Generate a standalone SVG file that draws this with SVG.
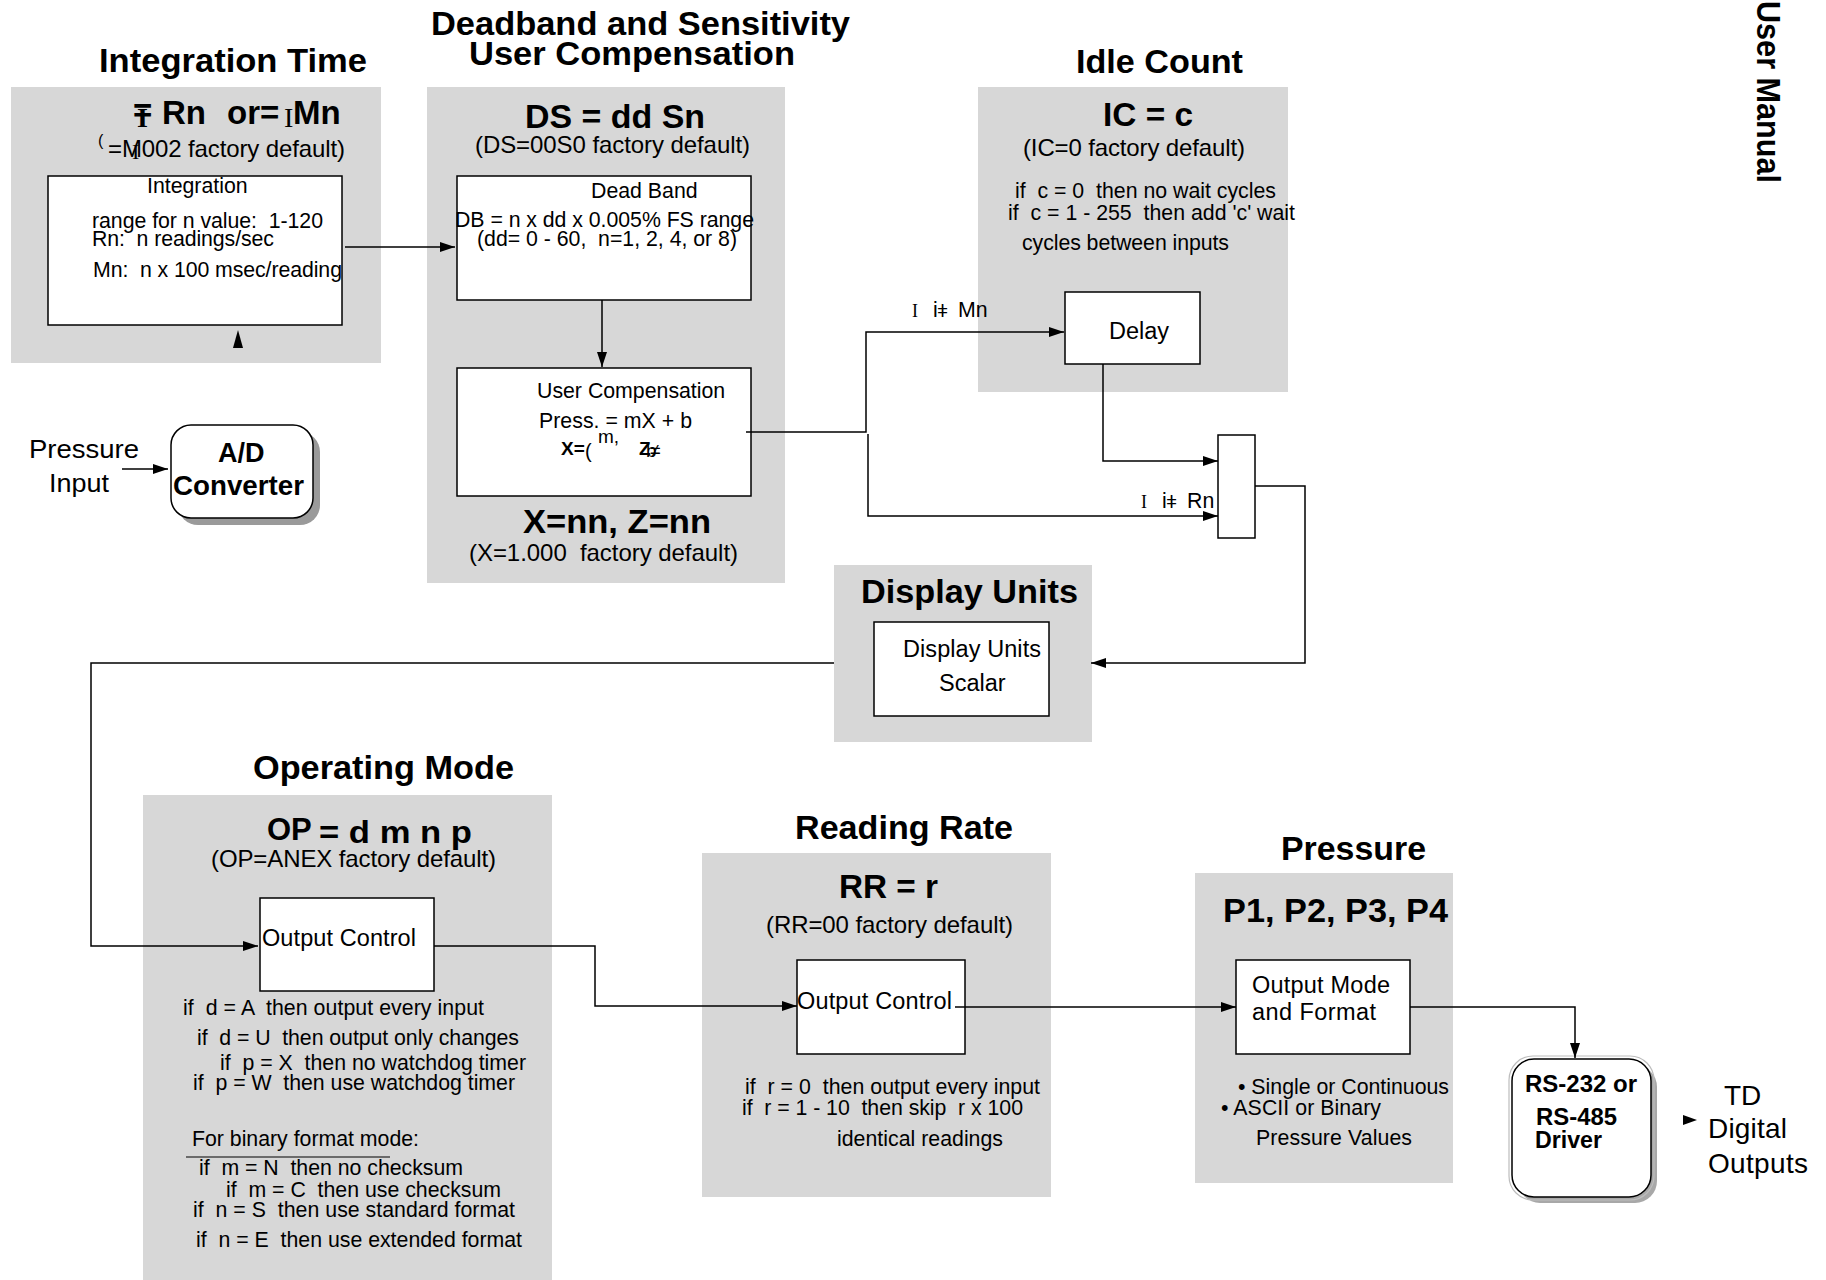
<svg xmlns="http://www.w3.org/2000/svg" width="1826" height="1280" viewBox="0 0 1826 1280">
  <style>
    text { font-family: "Liberation Sans", Arial, sans-serif; fill: #000; white-space: pre; }
    .title { font-size: 34px; font-weight: bold; }
    .head { font-size: 33px; font-weight: bold; }
    .dflt { font-size: 24px; }
    .body { font-size: 21.3px; }
    .lbl { font-size: 23.5px; }
    .serif { font-family: "Liberation Serif", "Times New Roman", serif; }
    .panel { fill: #d7d7d7; }
    .box { fill: #fff; stroke: #000; stroke-width: 1.5; }
    .wire { fill: none; stroke: #000; stroke-width: 1.5; }
    .arrowed { marker-end: url(#arrow); }
  </style>
  <defs>
    <marker id="arrow" markerUnits="userSpaceOnUse" markerWidth="15" markerHeight="10" refX="15" refY="5" orient="auto">
      <path d="M0,0 L15,5 L0,10 z" fill="#000"/>
    </marker>
  </defs>

  <rect x="0" y="0" width="1826" height="1280" fill="#fff"/>

  <!-- vertical page header -->
  <text class="head" transform="translate(1757,1) rotate(90)" textLength="182" lengthAdjust="spacingAndGlyphs">User Manual</text>

  <!-- Integration Time -->
  <g id="integration-time">
    <text class="title" x="99" y="72" textLength="268" lengthAdjust="spacingAndGlyphs">Integration Time</text>
    <rect class="panel" x="11" y="87" width="370" height="276"/>
    <text class="head" x="133" y="122" font-size="30">=</text>
    <text class="serif" x="137" y="127" font-size="28" font-weight="bold">I</text>
    <text class="head" x="162" y="124">Rn</text>
    <text class="head" x="227" y="124">or=</text>
    <text class="serif" x="284" y="127" font-size="28">I</text>
    <text class="head" x="293" y="124">Mn</text>
    <text x="98" y="146" font-size="16">(</text>
    <text class="dflt" x="108" y="157" textLength="237">=M002 factory default)</text>
    <text class="serif" x="132" y="159" font-size="22">I</text>
    <rect class="box" x="48" y="176" width="294" height="149"/>
    <text class="body" x="147" y="193">Integration</text>
    <text class="body" x="92" y="228" textLength="231">range for n value:  1-120</text>
    <text class="body" x="92" y="246" textLength="182">Rn:  n readings/sec</text>
    <text class="body" x="93" y="277" textLength="249">Mn:  n x 100 msec/reading</text>
    <polygon points="238,330 233,348 243,348" fill="#000"/>
  </g>

  <!-- Deadband and Sensitivity / User Compensation -->
  <g id="deadband">
    <text class="title" x="431" y="35" textLength="419" lengthAdjust="spacingAndGlyphs">Deadband and Sensitivity</text>
    <text class="title" x="469" y="65" textLength="326" lengthAdjust="spacingAndGlyphs">User Compensation</text>
    <rect class="panel" x="427" y="87" width="358" height="496"/>
    <text class="head" x="525" y="128" font-size="37" textLength="180" lengthAdjust="spacingAndGlyphs">DS = dd Sn</text>
    <text class="dflt" x="475" y="153" textLength="275">(DS=00S0 factory default)</text>
    <rect class="box" x="457" y="176" width="294" height="124"/>
    <text class="body" x="591" y="198">Dead Band</text>
    <text class="body" x="455" y="227" textLength="299">DB = n x dd x 0.005% FS range</text>
    <text class="body" x="477" y="246" textLength="260">(dd= 0 - 60,  n=1, 2, 4, or 8)</text>
  </g>

  <g id="user-compensation">
    <rect class="box" x="457" y="368" width="294" height="128"/>
    <text class="body" x="537" y="398">User Compensation</text>
    <text class="body" x="539" y="428" textLength="153">Press. = mX + b</text>
    <text x="561" y="455" font-size="19" font-weight="bold">X=</text>
    <text x="585" y="458" font-size="20">(</text>
    <text x="598" y="443" font-size="19">m,</text>
    <text x="639" y="455" font-size="19" font-weight="bold">Z</text>
    <text x="646" y="457" font-size="19">b</text>
    <text x="650" y="457" font-size="19">≠</text>
    <text class="head" x="523" y="533" font-size="32" textLength="188" lengthAdjust="spacingAndGlyphs">X=nn, Z=nn</text>
    <text class="dflt" x="469" y="561" textLength="269">(X=1.000  factory default)</text>
  </g>

  <!-- Idle Count -->
  <g id="idle-count">
    <text class="title" x="1076" y="73" textLength="167" lengthAdjust="spacingAndGlyphs">Idle Count</text>
    <rect class="panel" x="978" y="87" width="310" height="305"/>
    <text class="head" x="1103" y="126" textLength="90" lengthAdjust="spacingAndGlyphs">IC = c</text>
    <text class="dflt" x="1023" y="156" textLength="222">(IC=0 factory default)</text>
    <text class="body" x="1015" y="198" textLength="261">if  c = 0  then no wait cycles</text>
    <text class="body" x="1008" y="220" textLength="287">if  c = 1 - 255  then add 'c' wait</text>
    <text class="body" x="1022" y="250" textLength="207">cycles between inputs</text>
  </g>

  <g id="delay">
    <rect class="box" x="1065" y="292" width="135" height="72"/>
    <text class="lbl" x="1109" y="339">Delay</text>
  </g>

  <g id="selector">
    <rect class="box" x="1218" y="435" width="37" height="103"/>
  </g>

  <!-- A/D Converter -->
  <g id="ad-converter">
    <rect x="178" y="432" width="142" height="93" rx="20" fill="#9a9a9a"/>
    <rect class="box" x="171" y="425" width="142" height="93" rx="20"/>
    <text x="218" y="462" font-size="27" font-weight="bold">A/D</text>
    <text x="173" y="495" font-size="27" font-weight="bold" textLength="131" lengthAdjust="spacingAndGlyphs">Converter</text>
  </g>

  <g id="pressure-input">
    <text x="29" y="458" font-size="26" textLength="110" lengthAdjust="spacingAndGlyphs">Pressure</text>
    <text x="49" y="492" font-size="26" textLength="60" lengthAdjust="spacingAndGlyphs">Input</text>
  </g>

  <!-- Display Units -->
  <g id="display-units">
    <rect class="panel" x="834" y="565" width="258" height="177"/>
    <text class="head" x="861" y="603" textLength="217" lengthAdjust="spacingAndGlyphs">Display Units</text>
    <rect class="box" x="874" y="622" width="175" height="94"/>
    <text class="lbl" x="903" y="657" textLength="138">Display Units</text>
    <text class="lbl" x="939" y="691">Scalar</text>
  </g>

  <!-- Operating Mode -->
  <g id="operating-mode">
    <text class="title" x="253" y="779" textLength="261" lengthAdjust="spacingAndGlyphs">Operating Mode</text>
    <rect class="panel" x="143" y="795" width="409" height="485"/>
    <text x="267" y="840" font-size="31" font-weight="bold">OP</text>
    <text x="319" y="843" font-size="32" font-weight="bold" textLength="153" lengthAdjust="spacingAndGlyphs">= d m n p</text>
    <text class="dflt" x="211" y="867" textLength="285">(OP=ANEX factory default)</text>
    <rect class="box" x="260" y="898" width="174" height="93"/>
    <text class="lbl" x="262" y="946" textLength="154">Output Control</text>
    <text class="body" x="183" y="1015" textLength="301">if  d = A  then output every input</text>
    <text class="body" x="197" y="1045" textLength="322">if  d = U  then output only changes</text>
    <text class="body" x="220" y="1070" textLength="306">if  p = X  then no watchdog timer</text>
    <text class="body" x="193" y="1090" textLength="322">if  p = W  then use watchdog timer</text>
    <text class="body" x="192" y="1146" textLength="227">For binary format mode:</text>
    <line x1="186" y1="1157" x2="390" y2="1157" stroke="#000" stroke-width="1.2"/>
    <text class="body" x="199" y="1175" textLength="264">if  m = N  then no checksum</text>
    <text class="body" x="226" y="1197" textLength="275">if  m = C  then use checksum</text>
    <text class="body" x="193" y="1217" textLength="322">if  n = S  then use standard format</text>
    <text class="body" x="196" y="1247" textLength="326">if  n = E  then use extended format</text>
  </g>

  <!-- Reading Rate -->
  <g id="reading-rate">
    <text class="title" x="795" y="839" textLength="218" lengthAdjust="spacingAndGlyphs">Reading Rate</text>
    <rect class="panel" x="702" y="853" width="349" height="344"/>
    <text class="head" x="839" y="898" textLength="99" lengthAdjust="spacingAndGlyphs">RR = r</text>
    <text class="dflt" x="766" y="933" textLength="247">(RR=00 factory default)</text>
    <rect class="box" x="797" y="960" width="168" height="94"/>
    <text class="lbl" x="797" y="1009" textLength="155">Output Control</text>
    <text class="body" x="745" y="1094" textLength="295">if  r = 0  then output every input</text>
    <text class="body" x="742" y="1115" textLength="281">if  r = 1 - 10  then skip  r x 100</text>
    <text class="body" x="837" y="1146" textLength="166">identical readings</text>
  </g>

  <!-- Pressure -->
  <g id="pressure">
    <text class="title" x="1281" y="860" textLength="145" lengthAdjust="spacingAndGlyphs">Pressure</text>
    <rect class="panel" x="1195" y="873" width="258" height="310"/>
    <text class="head" x="1223" y="922" textLength="225" lengthAdjust="spacingAndGlyphs">P1, P2, P3, P4</text>
    <rect class="box" x="1236" y="960" width="174" height="94"/>
    <text class="lbl" x="1252" y="993" textLength="138">Output Mode</text>
    <text class="lbl" x="1252" y="1020" textLength="124">and Format</text>
    <text class="body" x="1238" y="1094" textLength="211">• Single or Continuous</text>
    <text class="body" x="1221" y="1115" textLength="160">• ASCII or Binary</text>
    <text class="body" x="1256" y="1145" textLength="156">Pressure Values</text>
  </g>

  <!-- RS-232 / RS-485 driver -->
  <g id="rs-driver">
    <rect x="1518" y="1065" width="139" height="138" rx="22" fill="#a8a8a8"/>
    <rect x="1509" y="1056" width="145" height="144" rx="24" fill="none" stroke="#bdbdbd" stroke-width="1.2"/>
    <rect class="box" x="1512" y="1059" width="139" height="138" rx="22"/>
    <text x="1525" y="1092" font-size="24" font-weight="bold" textLength="112" lengthAdjust="spacingAndGlyphs">RS-232 or</text>
    <text x="1536" y="1125" font-size="24" font-weight="bold" textLength="81" lengthAdjust="spacingAndGlyphs">RS-485</text>
    <text x="1535" y="1148" font-size="24" font-weight="bold" textLength="67" lengthAdjust="spacingAndGlyphs">Driver</text>
  </g>

  <g id="digital-outputs">
    <polygon points="1683,1115 1697,1120 1683,1125" fill="#000"/>
    <text x="1724" y="1105" font-size="28">TD</text>
    <text x="1708" y="1138" font-size="28" textLength="79">Digital</text>
    <text x="1708" y="1173" font-size="28" textLength="100">Outputs</text>
  </g>

  <!-- connectors -->
  <g id="connectors">
    <line class="wire arrowed" x1="122" y1="469" x2="168" y2="469"/>
    <line class="wire arrowed" x1="345" y1="247" x2="455" y2="247"/>
    <line class="wire arrowed" x1="602" y1="300" x2="602" y2="367"/>
    <path class="wire arrowed" d="M746,432 H866 V332 H1064"/>
    <path class="wire arrowed" d="M868,434 V516 H1218"/>
    <path class="wire arrowed" d="M1103,364 V461 H1218"/>
    <path class="wire arrowed" d="M1255,486 H1305 V663 H1091"/>
    <path class="wire arrowed" d="M834,663 H91 V946 H258"/>
    <path class="wire arrowed" d="M434,946 H595 V1006 H797"/>
    <line class="wire arrowed" x1="955" y1="1007" x2="1236" y2="1007"/>
    <path class="wire arrowed" d="M1410,1007 H1575 V1058"/>
    <!-- path-switch labels -->
    <text class="serif" x="912" y="317" font-size="18">I</text>
    <text class="body" x="933" y="317">i</text>
    <text x="937" y="317" font-size="19">ǂ</text>
    <text class="body" x="958" y="317">Mn</text>
    <text class="serif" x="1141" y="508" font-size="18">I</text>
    <text class="body" x="1162" y="508">i</text>
    <text x="1166" y="508" font-size="19">ǂ</text>
    <text class="body" x="1187" y="508">Rn</text>
  </g>
</svg>
